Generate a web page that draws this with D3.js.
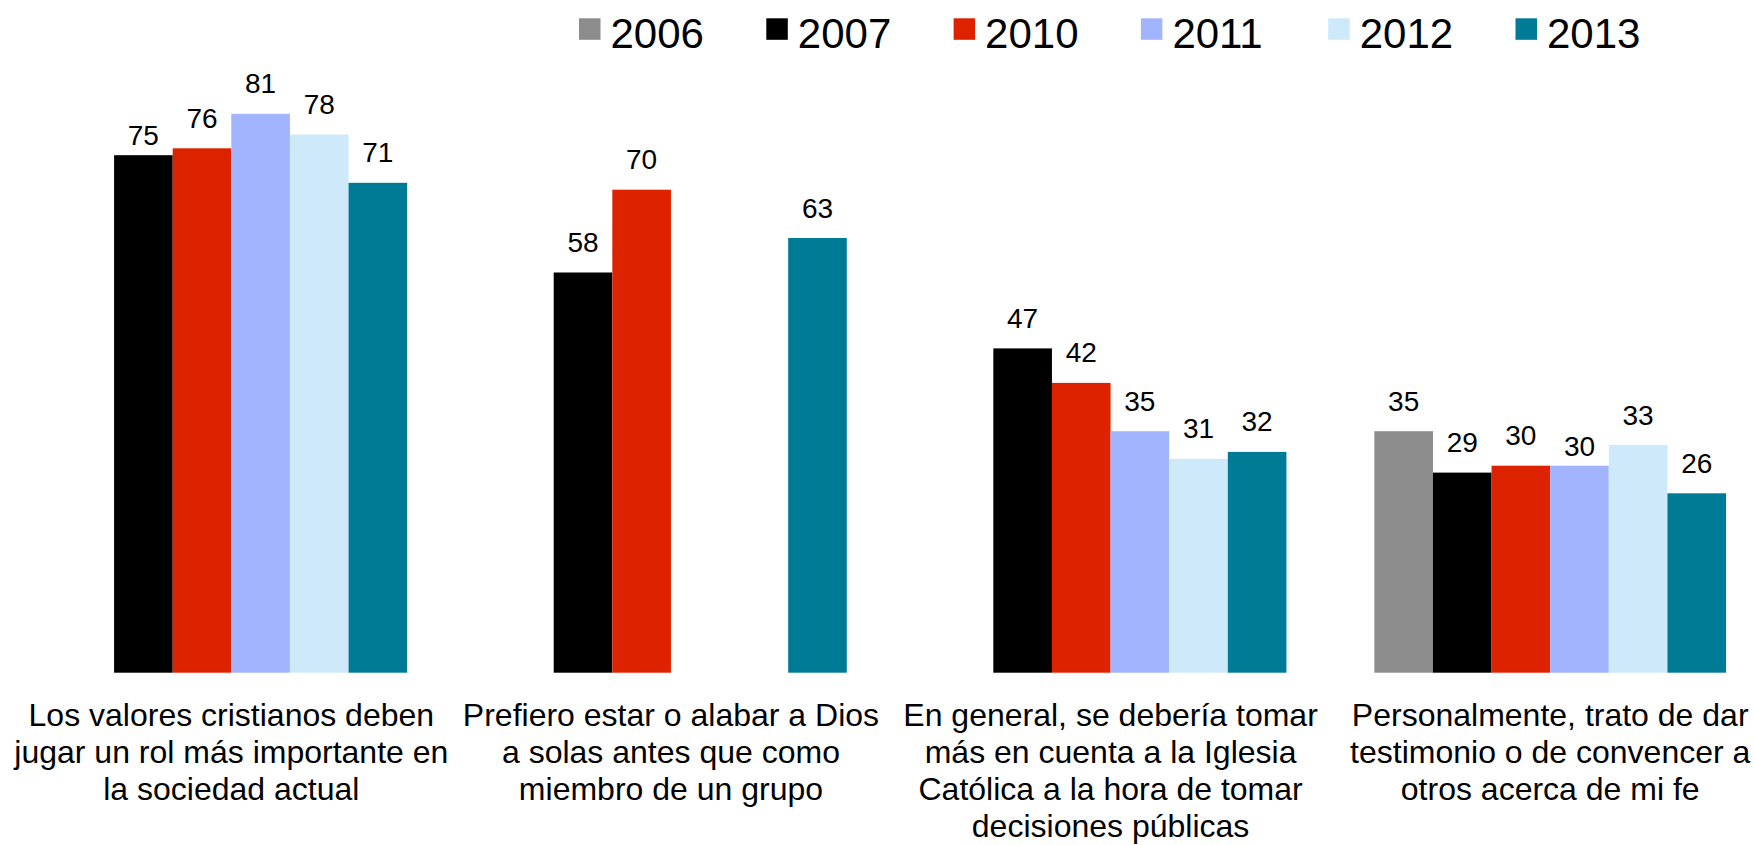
<!DOCTYPE html>
<html>
<head>
<meta charset="utf-8">
<script src="https://cdn.jsdelivr.net/npm/d3@7/dist/d3.min.js"></script>
<style>
  html, body { margin: 0; padding: 0; background: #fff; }
  svg text { font-family: "Liberation Sans", Arial, sans-serif; fill: #000; }
</style>
</head>
<body>
<div id="chart"></div>
<script>
// categorias (lineas ya cortadas como en el original)
var categories = [
  ["Los valores cristianos deben", "jugar un rol más importante en", "la sociedad actual"],
  ["Prefiero estar o alabar a Dios", "a solas antes que como", "miembro de un grupo"],
  ["En general, se debería tomar", "más en cuenta a la Iglesia", "Católica a la hora de tomar", "decisiones públicas"],
  ["Personalmente, trato de dar", "testimonio o de convencer a", "otros acerca de mi fe"]
];
var years = ["2006", "2007", "2010", "2011", "2012", "2013"];
var values2006 = [null, null, null, 35];
var values2007 = [75, 58, 47, 29];
var values2010 = [76, 70, 42, 30];
var values2011 = [81, null, 35, 30];
var values2012 = [78, null, 31, 33];
var values2013 = [71, 63, 32, 26];
var colors = ["#8c8c8c", "#000000", "#dd2200", "#a3b4ff", "#cde9fa", "#007b96"];

var series = [values2006, values2007, values2010, values2011, values2012, values2013];

// etiquetas que en el original quedan mas pegadas a la barra
var closeLabels = ["0-2007", "3-2011"];

var w = 1754, h = 845;

var svg = d3.select("#chart")
  .append("svg")
  .attr("width", w)
  .attr("height", h);

var catIds = categories.map(function(d, i) { return i; });

var x0 = d3.scaleBand()
  .domain(catIds)
  .range([11.5, 1770])
  .paddingInner(0.2)
  .paddingOuter(0.1);

var x1 = d3.scaleBand()
  .domain(years)
  .range([0, x0.bandwidth()]);

var y = d3.scaleLinear()
  .domain([0, 100])
  .range([672.7, -17.3]);

var color = d3.scaleOrdinal().domain(years).range(colors);

// filas planas: una por barra
var rows = [];
catIds.forEach(function(c) {
  years.forEach(function(yr, j) {
    var v = series[j][c];
    if (v != null) rows.push({ cat: c, year: yr, value: v });
  });
});

var barsG = svg.append("g").attr("class", "bars");

barsG.selectAll("rect")
  .data(rows)
  .enter().append("rect")
  .attr("x", function(d) { return x0(d.cat) + x1(d.year); })
  .attr("y", function(d) { return y(d.value); })
  .attr("width", x1.bandwidth())
  .attr("height", function(d) { return y(0) - y(d.value); })
  .attr("fill", function(d) { return color(d.year); });

barsG.selectAll("text.val")
  .data(rows)
  .enter().append("text")
  .attr("class", "val")
  .attr("x", function(d) { return x0(d.cat) + x1(d.year) + x1.bandwidth() / 2; })
  .attr("y", function(d) {
    var gap = closeLabels.indexOf(d.cat + "-" + d.year) >= 0 ? 10 : 20.5;
    return y(d.value) - gap;
  })
  .attr("text-anchor", "middle")
  .style("font-size", "28px")
  .text(function(d) { return d.value; });

// etiquetas de categoria
var labelG = svg.append("g").attr("class", "cat-labels");
var lab = labelG.selectAll("text")
  .data(catIds)
  .enter().append("text")
  .attr("text-anchor", "middle")
  .attr("transform", function(c) { return "translate(" + (x0(c) + x0.bandwidth() / 2) + ",725.7)"; })
  .style("font-size", "32px");

lab.selectAll("tspan")
  .data(function(c) { return categories[c]; })
  .enter().append("tspan")
  .attr("x", 0)
  .attr("y", function(d, i) { return i * 37.2; })
  .text(function(d) { return d; });

// leyenda
var legend = svg.append("g").attr("class", "legend")
  .selectAll("g")
  .data(years)
  .enter().append("g")
  .attr("transform", function(d, i) { return "translate(" + (579 + i * 187.3) + ",0)"; });

legend.append("rect")
  .attr("x", 0)
  .attr("y", 18.3)
  .attr("width", 21.5)
  .attr("height", 21.5)
  .attr("fill", function(d) { return color(d); });

legend.append("text")
  .attr("x", 31.5)
  .attr("y", 48.3)
  .style("font-size", "42px")
  .text(function(d) { return d; });
</script>
</body>
</html>
